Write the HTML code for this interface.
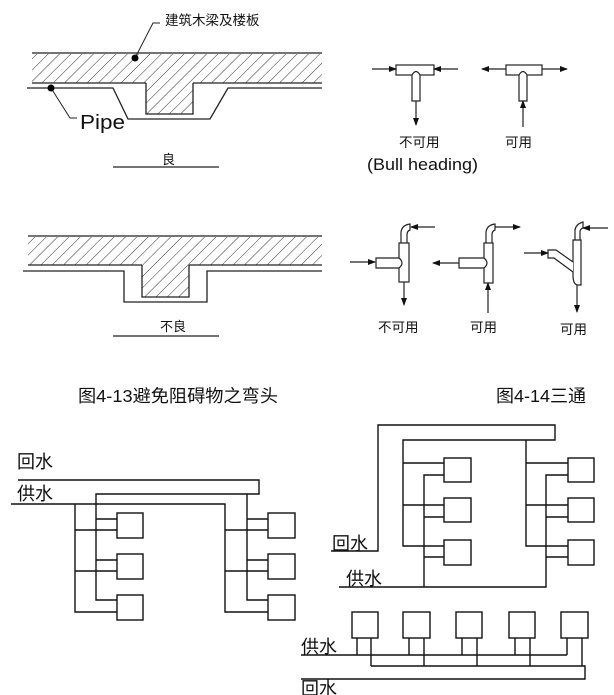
<!DOCTYPE html>
<html><head><meta charset="utf-8"><style>
html,body{margin:0;padding:0;background:#fff;width:614px;height:695px;overflow:hidden}
svg{display:block}
text{font-family:"Liberation Sans","Noto Sans CJK SC",sans-serif;fill:#111}
</style></head><body>
<svg width="614" height="695" viewBox="0 0 614 695" xmlns="http://www.w3.org/2000/svg">
<defs>
<pattern id="h" patternUnits="userSpaceOnUse" width="8" height="8" patternTransform="rotate(45)">
<line x1="0" y1="0" x2="0" y2="8" stroke="#333" stroke-width="1"/>
</pattern>
<marker id="a" markerWidth="8" markerHeight="6" refX="7" refY="3" orient="auto" markerUnits="userSpaceOnUse">
<path d="M0,0 L8,3 L0,6 z" fill="#111"/></marker>
</defs>
<g fill="none" stroke="#222" stroke-width="1.3">
<path d="M32,53 H322 M32,83 H146 M193,83 H322" />
<rect x="32" y="54" width="290" height="29" fill="url(#h)" stroke="none"/>
<path d="M146,83 V114 H193 V83" fill="url(#h)"/>
<path d="M27,88 H113 L128,119 H210 L228,88 H322"/>
<path d="M135,58 L153,23 H160" stroke-width="1"/>
<path d="M51,88 L70,118 H77" stroke-width="1"/>
<path d="M113,167 H219"/>
<path d="M28,236 H322 M28,265 H142 M189,265 H322"/>
<rect x="28" y="237" width="294" height="28" fill="url(#h)" stroke="none"/>
<path d="M142,265 V297 H189 V265" fill="url(#h)"/>
<path d="M23,271 H124 V302 H207 V271 H322"/>
<path d="M113,336 H219"/>
</g>
<circle cx="135" cy="58" r="3.5" fill="#000"/>
<circle cx="51" cy="88" r="3.5" fill="#000"/>
<text x="165" y="25" font-size="13.5">建筑木梁及楼板</text>
<text x="80" y="129" font-size="20" fill="#666" textLength="45" lengthAdjust="spacingAndGlyphs">Pipe</text>
<text x="162" y="164" font-size="13">良</text>
<text x="160" y="331" font-size="13">不良</text>

<g fill="none" stroke="#222" stroke-width="1.2">
<rect x="396" y="65" width="38" height="10" fill="#fff"/>
<path d="M412,101 V75 Q416,68 420,75 V101 Z" fill="#fff"/>
<line x1="372" y1="69" x2="396" y2="69" marker-end="url(#a)"/>
<line x1="458" y1="69" x2="434" y2="69" marker-end="url(#a)"/>
<line x1="416" y1="101" x2="416" y2="125" marker-end="url(#a)"/>
<rect x="506" y="65" width="36" height="10" fill="#fff"/>
<path d="M519,101 V75 Q523,68 527,75 V101 Z" fill="#fff"/>
<line x1="506" y1="69" x2="482" y2="69" marker-end="url(#a)"/>
<line x1="542" y1="69" x2="567" y2="69" marker-end="url(#a)"/>
<line x1="523" y1="127" x2="523" y2="101" marker-end="url(#a)"/>

<rect x="399" y="243" width="10" height="39" fill="#fff"/>
<path d="M401,243 V232 Q402,225 410,224 V230 Q407,231 407,235 V243"/>
<path d="M399,258 H376 V268 H399 Q405,263 399,258" fill="#fff"/>
<line x1="435" y1="227" x2="411" y2="227" marker-end="url(#a)"/>
<line x1="350" y1="262" x2="375" y2="262" marker-end="url(#a)"/>
<line x1="404" y1="282" x2="404" y2="305" marker-end="url(#a)"/>

<rect x="484" y="243" width="9" height="40" fill="#fff"/>
<path d="M486,243 V232 Q487,225 495,224 V230 Q492,231 492,235 V243"/>
<path d="M484,258 H459 V268 H484 Q490,263 484,258" fill="#fff"/>
<line x1="495" y1="227" x2="520" y2="227" marker-end="url(#a)"/>
<line x1="459" y1="263" x2="433" y2="263" marker-end="url(#a)"/>
<line x1="488" y1="313" x2="488" y2="283" marker-end="url(#a)"/>

<path d="M573,240 V275 Q573,285 578,285 H581 V240 Z" fill="#fff"/>
<path d="M575,240 V230 Q576,224 583,222 V228 Q580,229 580,232 V240"/>
<path d="M573,262 L556,250 H548 V258 H554 L573,272" fill="#fff"/>
<line x1="524" y1="253" x2="548" y2="253" marker-end="url(#a)"/>
<line x1="608" y1="228" x2="583" y2="228" marker-end="url(#a)"/>
<line x1="577" y1="285" x2="577" y2="312" marker-end="url(#a)"/>
</g>
<text x="399" y="147" font-size="13.5">不可用</text>
<text x="367" y="170" font-size="17" fill="#444" textLength="111" lengthAdjust="spacingAndGlyphs">(Bull heading)</text>
<text x="505" y="147" font-size="13.5">可用</text>
<text x="378" y="332" font-size="13.5">不可用</text>
<text x="470" y="332" font-size="13.5">可用</text>
<text x="560" y="334" font-size="13.5">可用</text>

<text x="78" y="402" font-size="17.5" textLength="200" lengthAdjust="spacingAndGlyphs">图4-13避免阻碍物之弯头</text>
<text x="496" y="402" font-size="17.5" textLength="90" lengthAdjust="spacingAndGlyphs">图4-14三通</text>

<g fill="none" stroke="#111" stroke-width="1.4">
<path d="M18,480 H259 V494 H96 V600 H117"/>
<path d="M11,504 H225 V612 H268"/>
<path d="M75,504 V612 H117"/>
<path d="M96,519 H117 M75,530 H117 M96,560 H117 M75,571 H117"/>
<path d="M247,494 V600 H268 M247,519 H268 M225,530 H268 M247,560 H268 M225,571 H268"/>
<rect x="117" y="513" width="26" height="25"/><rect x="117" y="554" width="26" height="25"/><rect x="117" y="595" width="26" height="25"/>
<rect x="268" y="513" width="27" height="25"/><rect x="268" y="554" width="27" height="25"/><rect x="268" y="595" width="27" height="25"/>

<path d="M331,551 H378 V425 H555 V440 H403 V546 H444"/>
<path d="M403,463 H444 M403,505 H444"/>
<path d="M339,587 H546 V475 H568"/>
<path d="M424,587 V475 H444 M424,517 H444 M424,557 H444"/>
<path d="M526,440 V546 H568 M526,463 H568 M526,505 H568 M546,517 H568 M546,557 H568"/>
<rect x="444" y="458" width="27" height="24"/><rect x="444" y="498" width="27" height="24"/><rect x="444" y="540" width="27" height="25"/>
<rect x="568" y="458" width="26" height="24"/><rect x="568" y="498" width="26" height="24"/><rect x="568" y="540" width="26" height="25"/>

<path d="M301,655 H567"/>
<path d="M371,666 H585 V679 H301"/>
<path d="M357,638 V655 M371,638 V666 M409,638 V655 M424,638 V666 M462,638 V655 M477,638 V666 M515,638 V655 M530,638 V666 M567,638 V655 M582,638 V666"/>
<rect x="352" y="612" width="26" height="26"/><rect x="403" y="612" width="27" height="26"/><rect x="456" y="612" width="26" height="26"/><rect x="509" y="612" width="26" height="26"/><rect x="561" y="612" width="27" height="26"/>
</g>
<text x="17" y="468" font-size="18">回水</text>
<text x="17" y="500" font-size="18">供水</text>
<text x="332" y="550" font-size="18">回水</text>
<text x="346" y="585" font-size="18">供水</text>
<text x="301" y="653" font-size="18">供水</text>
<text x="301" y="695" font-size="18">回水</text>
</svg>
</body></html>
